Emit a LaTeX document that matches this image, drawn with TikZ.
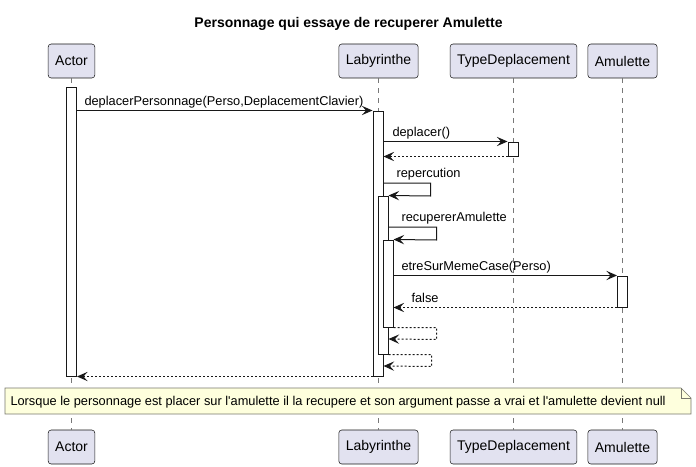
\documentclass[tikz,border=0pt]{standalone}
\usepackage{fontspec}
\setmainfont{Liberation Sans}
\usetikzlibrary{arrows.meta}

\definecolor{partfill}{RGB}{226,226,240}
\definecolor{inkdark}{RGB}{24,24,24}
\definecolor{notefill}{RGB}{254,255,221}

\tikzset{every picture/.style={line width=0.75pt}}
\tikzset{
  partbox/.style={draw=inkdark, line width=0.4pt, fill=partfill, rounded corners=2.25pt, minimum height=25.5pt, inner xsep=5.25pt, font=\fontsize{10.5pt}{12pt}\selectfont},
  actbar/.style={draw=inkdark, fill=white, minimum width=7.5pt, inner sep=0pt},
  lifeln/.style={draw={rgb,255:red,120;green,120;blue,120}, dash pattern={on 3.75pt off 3.75pt}},
  callmsg/.style={draw=inkdark, -{Stealth[length=8pt,width=7pt,inset=3.2pt]}},
  retmsg/.style={callmsg, dash pattern={on 1.5pt off 1.5pt}},
  msglbl/.style={anchor=base west, inner sep=0pt, font=\fontsize{9.6pt}{11pt}\selectfont},
}

\begin{document}
\begin{tikzpicture}[x=0.75pt,y=0.75pt,yscale=-1,xscale=1]
  \useasboundingbox (0,0) rectangle (696,467);
  % title
  \node[anchor=base, inner sep=0pt, font=\bfseries\fontsize{10.5pt}{12pt}\selectfont] (title) at (348.5,28) {Personnage qui essaye de recuperer Amulette};
  % participants, top and bottom
  \node[partbox] (pActor) at (71.5,61) {Actor};
  \node[partbox] (pLaby) at (378.5,61) {Labyrinthe};
  \node[partbox] (pType) at (513.5,61) {TypeDeplacement};
  \node[partbox] (pAmul) at (622.5,61) {Amulette};
  \node[partbox] (qActor) at (71.5,447) {Actor};
  \node[partbox] (qLaby) at (378.5,447) {Labyrinthe};
  \node[partbox] (qType) at (513.5,447) {TypeDeplacement};
  \node[partbox] (qAmul) at (622.5,447) {Amulette};
  % lifelines
  \draw[lifeln] (pActor.south) -- (qActor.north);
  \draw[lifeln] (pLaby.south) -- (qLaby.north);
  \draw[lifeln] (pType.south) -- (qType.north);
  \draw[lifeln] (pAmul.south) -- (qAmul.north);
  % note
  \draw[draw={rgb,255:red,120;green,120;blue,110}, line width=0.5pt, fill=notefill] (5,388) -- (681,388) -- (691,398) -- (691,414) -- (5,414) -- cycle;
  \draw[draw={rgb,255:red,120;green,120;blue,110}, line width=0.5pt] (681,388) -- (681,398) -- (691,398);
  \node[msglbl] (noteTxt) at (10,405) {Lorsque le personnage est placer sur l\textquotesingle amulette il la recupere et son argument passe a vrai et l\textquotesingle amulette devient null};
  % activations
  \node[actbar, minimum height=216pt] (aActor) at (71.5,232) {};
  \node[actbar, minimum height=198.75pt] (aLaby) at (378,243.5) {};
  \node[actbar, minimum height=10.5pt] (aType) at (513,149) {};
  \node[actbar, minimum height=118.5pt] (aLaby2) at (383,275) {};
  \node[actbar, minimum height=65.25pt] (aLaby3) at (388,283.5) {};
  \node[actbar, minimum height=23.25pt] (aAmul) at (622.5,291.5) {};
  % messages
  \draw[callmsg] (aActor.east |- aLaby.north) -- (aLaby.north west);
  \node[msglbl] (lDepPerso) at (84,106) {deplacerPersonnage(Perso,DeplacementClavier)};
  \draw[callmsg] (aLaby.east |- aType.north) -- (aType.north west);
  \node[msglbl] (lDeplacer) at (392,137) {deplacer()};
  \draw[retmsg] (aType.south west) -- (aLaby.east |- aType.south);
  \draw[callmsg] (aLaby.east |- 0,183) -- ++(47,0) -- ++(0,13) -- (aLaby2.north east);
  \node[msglbl] (lRepercu) at (396,177) {repercution};
  \draw[callmsg] (aLaby2.east |- 0,227) -- ++(48,0) -- ++(0,13) -- (aLaby3.north east);
  \node[msglbl] (lRecup) at (401,221) {recupererAmulette};
  \draw[callmsg] (aLaby3.east |- aAmul.north) -- (aAmul.north west);
  \node[msglbl] (lSurCase) at (401,270) {etreSurMemeCase(Perso)};
  \draw[retmsg] (aAmul.south west) -- (aLaby3.east |- aAmul.south);
  \node[msglbl] (lFalse) at (411,302) {false};
  \draw[retmsg] (aLaby3.south east) -- ++(43,0) -- ++(0,12) -- (aLaby2.east |- 0,339);
  \draw[retmsg] (aLaby2.south east) -- ++(43,0) -- ++(0,12) -- (aLaby.east |- 0,366);
  \draw[retmsg] (aLaby.south west) -- (aActor.south east);
\end{tikzpicture}
\end{document}
